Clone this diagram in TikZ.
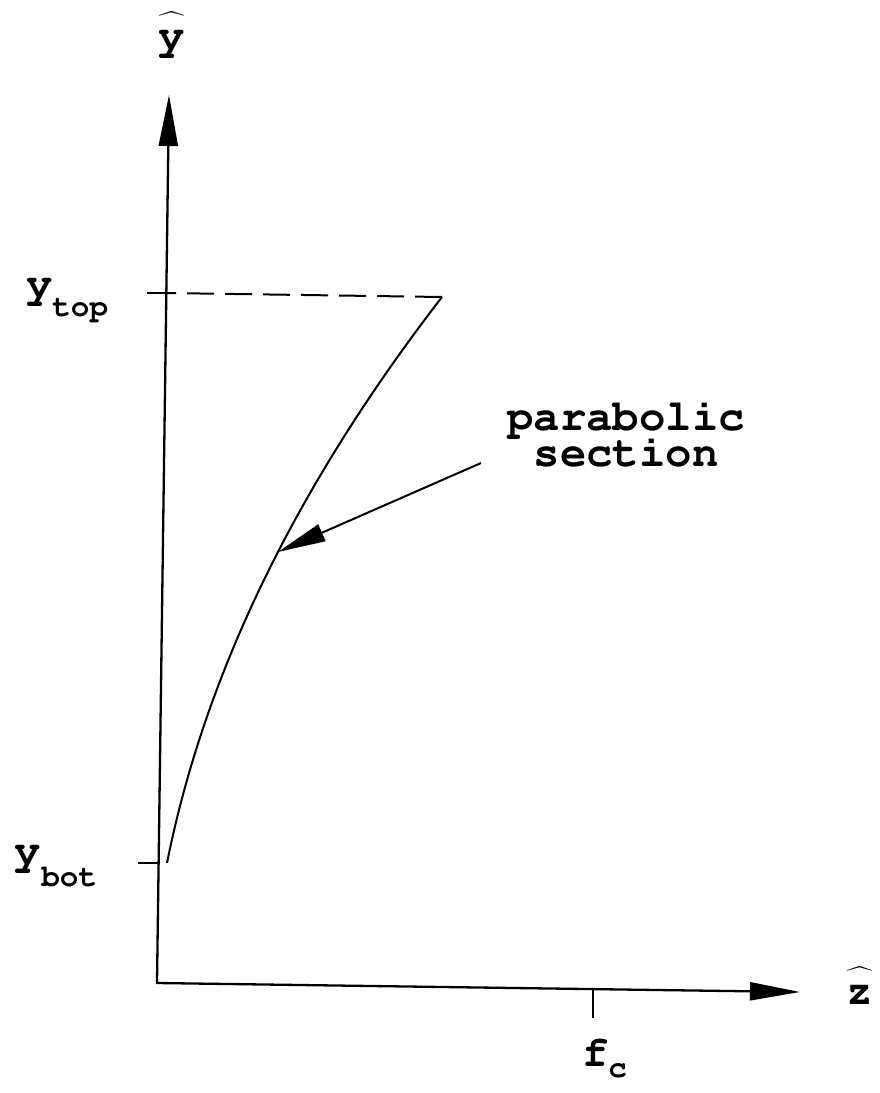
\documentclass[tikz,border=0pt]{standalone}
\usepackage[T1]{fontenc}
\usepackage{fontspec}
\usepackage{exscale}
\newcommand\courfont{\fontencoding{T1}\fontfamily{pcr}\fontseries{b}\selectfont}
\usetikzlibrary{arrows.meta}
\newcommand\lblsub[2]{\raisebox{-#1pt}{\fontsize{31}{31}\courfont #2}}
\newcommand\hatlbl[1]{\ooalign{#1\cr\raisebox{9pt}{$\widehat{\phantom{\mbox{#1}}}$}\cr}}
\begin{document}
\begin{tikzpicture}[x=1pt,y=-1pt, line width=2pt,
  lbl/.style={inner sep=0pt, font=\fontsize{44}{44}\courfont},
  axes/.style={{Triangle[length=51pt,width=19pt]}-{Triangle[length=50pt,width=18pt]}, line width=2.3pt},
  tickline/.style={line width=2pt},
  guide/.style={dash pattern=on 27pt off 11pt, line width=2pt},
  curveline/.style={line width=2pt},
  pointer/.style={-{Triangle[length=48pt,width=18pt]}, line width=2pt}]
\path[use as bounding box] (0,0) rectangle (880,1093);
% axes
\coordinate (O) at (157,983);
\coordinate (ytip) at (169,95);
\coordinate (ztip) at (800,992);
\draw[axes] (ytip) -- (O) -- (ztip);
% ticks
\coordinate (ytopaxis) at (166,293);
\coordinate (ytoptick) at (147,293);
\draw[tickline] (ytoptick) -- (ytopaxis);
\coordinate (ybotaxis) at (158,863);
\coordinate (ybottick) at (138,863);
\draw[tickline] (ybottick) -- (ybotaxis);
\coordinate (fcaxis) at (593,988);
\coordinate (fctick) at (593,1018);
\draw[tickline] (fcaxis) -- (fctick);
% parabolic curve
\coordinate (cbot) at (167,863);
\coordinate (ctop) at (442,297);
\draw[curveline] (cbot) .. controls (204.7,674) and (296.3,485.7) .. (ctop);
\draw[guide] (ctop) -- (ytopaxis);
% pointer
\coordinate (ptail) at (481,463);
\coordinate (phead) at (278,552);
\draw[pointer] (ptail) -- (phead);
% labels
\node[lbl, anchor=base] (yhat) at (172,49) {\hatlbl{y}};
\node[lbl, anchor=base] (zhat) at (860,1004) {\hatlbl{z}};
\node[lbl, anchor=base west] (ytoplbl) at (25,297) {y\lblsub{19}{top}};
\node[lbl, anchor=base west] (ybotlbl) at (14,864) {y\lblsub{22}{bot}};
\node[lbl, anchor=base west] (fclbl) at (581,1066) {f\lblsub{11}{c}};
\node[lbl, align=center, font=\fontsize{44}{35}\courfont] (para) at (626,434) {parabolic\\section};
\end{tikzpicture}
\end{document}
